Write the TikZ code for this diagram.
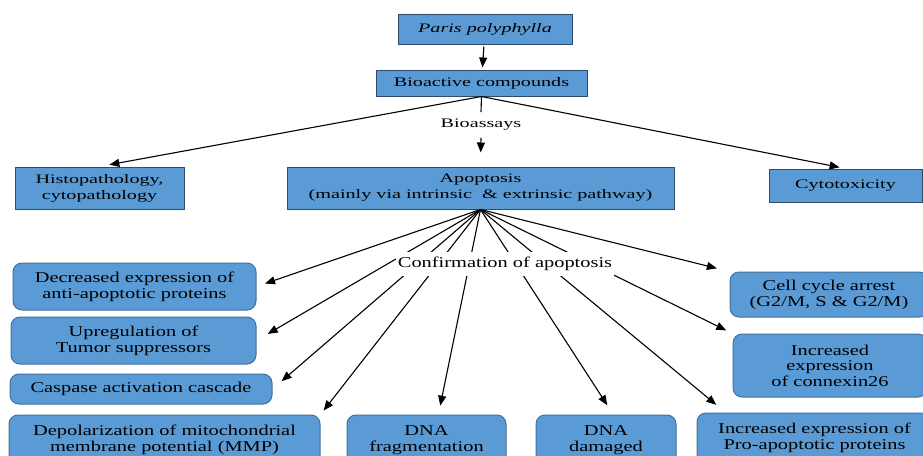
\documentclass[tikz,border=0pt]{standalone}
\usepackage{fontspec}
\setmainfont{Liberation Serif}
\newfontfamily\upperfont[FakeStretch=1.55]{Liberation Serif}
\newfontfamily\lowerfont[FakeStretch=1.36]{Liberation Serif}
\usetikzlibrary{arrows.meta}
\definecolor{boxblue}{HTML}{5B9BD5}
\definecolor{boxline}{HTML}{41719C}
\definecolor{darkline}{HTML}{2F4B6B}
\begin{document}
\begin{tikzpicture}
[x=1pt,y=-1pt,
top box/.style={draw=darkline,fill=boxblue,line width=1pt,align=center,inner sep=0pt,font=\upperfont\fontsize{13}{16}\selectfont},
result box/.style={draw=boxline,fill=boxblue,line width=1pt,rounded corners=9pt,align=center,inner sep=0pt,font=\lowerfont\fontsize{15}{16}\selectfont},
link/.style={line width=1.1pt,-{Triangle[length=10pt,width=8pt]}}]
\useasboundingbox (0,0) rectangle (923,455);
\clip (0,0) rectangle (923,455);
% upper part
\node[top box,minimum width=174pt,minimum height=30pt] (paris) at (485,29) {\itshape Paris polyphylla};
\node[top box,minimum width=211pt,minimum height=26pt] (bio) at (481.5,83) {Bioactive compounds};
\node[font=\upperfont\fontsize{13}{16}\selectfont,inner ysep=7pt] (assay) at (481,125) {Bioassays};
\node[top box,minimum width=169pt,minimum height=42pt] (histo) at (99.5,188) {Histopathology,\\cytopathology};
\node[top box,minimum width=387pt,minimum height=42pt] (apop) at (480.5,188) {Apoptosis\\(mainly via intrinsic \ \& extrinsic pathway)};
\node[top box,minimum width=153pt,minimum height=33pt] (cyto) at (845.5,185.5) {Cytotoxicity};
\draw[link,shorten <=2pt,shorten >=2pt] (paris) -- (bio);
\draw[line width=1.1pt] (bio.south) -- (assay.north);
\draw[link,shorten >=14pt] (assay.south) -- (apop.north);
\draw[link,shorten >=10pt] (bio.south) -- (histo.north);
\draw[link,shorten >=6pt] (bio.south) -- (cyto.north);
% results of the bioassays
\node[result box,minimum width=243pt,minimum height=47pt] (dec) at (134.5,286.5) {Decreased expression of\\anti-apoptotic proteins};
\node[result box,minimum width=245pt,minimum height=47pt] (upr) at (133.5,340.5) {Upregulation of\\Tumor suppressors};
\node[result box,minimum width=262pt,minimum height=30pt] (casp) at (141,389) {Caspase activation cascade};
\node[result box,minimum width=311pt,minimum height=50pt] (depol) at (164.5,440) {Depolarization of mitochondrial\\membrane potential (MMP)};
\node[result box,minimum width=159pt,minimum height=50pt] (frag) at (426.5,440) {DNA\\fragmentation};
\node[result box,minimum width=140pt,minimum height=50pt] (dmg) at (606,440) {DNA\\damaged};
\node[result box,minimum width=235pt,minimum height=50pt] (pro) at (814.5,438) {Increased expression of\\Pro-apoptotic proteins};
\node[result box,minimum width=198pt,minimum height=45pt] (cc) at (829,294.5) {Cell cycle arrest\\(G2/M, S \& G2/M)};
\node[result box,minimum width=194pt,minimum height=63pt,font=\lowerfont\fontsize{15}{15.5}\selectfont] (cx) at (830,365.5) {Increased\\expression\\of connexin26};
\foreach \target/\gap in {dec.east/9,upr.east/13,casp.east/12,depol.north east/5,frag.65/9,dmg.74/11,pro.164/12,cx.north west/7,cc.north west/13}
  \draw[link,shorten >=\gap pt] (apop.south) -- (\target);
\node[fill=white,inner xsep=2pt,inner ysep=5pt,font=\lowerfont\fontsize{15}{16}\selectfont] (conf) at (505,264) {Confirmation of apoptosis};
\end{tikzpicture}
\end{document}
